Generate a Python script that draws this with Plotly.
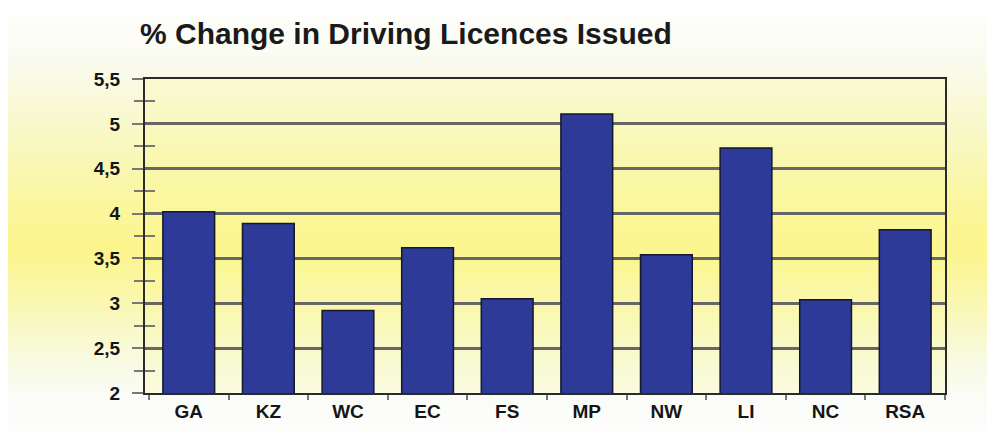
import plotly.graph_objects as go

categories = ["GA", "KZ", "WC", "EC", "FS", "MP", "NW", "LI", "NC", "RSA"]
values = [4.02, 3.89, 2.92, 3.62, 3.05, 5.11, 3.54, 4.73, 3.04, 3.82]
title_text = "% Change in Driving Licences Issued"

W, H = 995, 441
OFF = 8  # page body margin
ml, mt = 145 - OFF, 79 - OFF
plot_w, plot_h = 800, 314
mr = W - ml - plot_w
mb = H - mt - plot_h

fig = go.Figure()
fig.add_trace(go.Bar(
    x=categories, y=values, width=0.65,
    marker=dict(color="#2D3A98", line=dict(color="#15172a", width=1.5)),
    hoverinfo="x+y",
))
fig.add_trace(go.Scatter(x=[categories[0]], y=[2], yaxis="y2", mode="markers",
                         marker=dict(opacity=0), showlegend=False, hoverinfo="skip"))

# vertical background gradient in screen coordinates (white -> yellow -> white)
stops = [(0, (255, 255, 255)), (60, (250, 251, 240)), (130, (248, 248, 200)),
         (200, (250, 246, 160)), (250, (252, 245, 140)), (300, (250, 247, 175)),
         (360, (248, 250, 225)), (400, (250, 252, 248)), (450, (255, 255, 255))]

def col_at(py):
    for (p0, c0), (p1, c1) in zip(stops[:-1], stops[1:]):
        if p0 <= py <= p1:
            t = (py - p0) / (p1 - p0)
            return tuple(int(round(a + (b - a) * t)) for a, b in zip(c0, c1))
    return stops[-1][1]

shapes = []
step = 4
for fy in range(0, H, step):
    c = col_at(fy + OFF + step / 2)
    y_top = (H - mb - fy) / plot_h
    y_bot = (H - mb - fy - step - 0.5) / plot_h
    shapes.append(dict(type="rect", xref="paper", yref="paper",
                       x0=-ml / plot_w - 0.01, x1=1 + mr / plot_w + 0.01,
                       y0=y_bot, y1=y_top, layer="below", line=dict(width=0),
                       fillcolor="rgb(%d,%d,%d)" % c))
shapes.append(dict(type="rect", xref="paper", yref="paper", x0=0, x1=1, y0=0, y1=1,
                   layer="below", line=dict(width=0), fillcolor="rgba(250,250,150,0.22)"))

FONT = "Liberation Sans, Arial, sans-serif"

fig.update_layout(
    width=W, height=H,
    margin=dict(l=ml, r=mr, t=mt, b=mb),
    paper_bgcolor="white",
    plot_bgcolor="rgba(0,0,0,0)",
    separators=", ",
    showlegend=False,
    shapes=shapes,
    title=dict(text="<b>" + title_text + "</b>", x=(140 - OFF) / W, xanchor="left",
               y=1 - (33 - OFF) / H, yanchor="middle",
               font=dict(family=FONT, size=30, color="#1a1a1a")),
    font=dict(family=FONT),
    xaxis=dict(
        showgrid=False, showline=True, linecolor="#2a2a2a", linewidth=2, mirror=True,
        ticks="outside", tickson="boundaries", ticklen=5, tickcolor="#777", tickwidth=2,
        tickfont=dict(size=19, color="#151515", family=FONT),
        tickprefix="<b>", ticksuffix="</b>",
    ),
    yaxis=dict(
        range=[2, 5.5], dtick=0.5, tick0=2,
        showgrid=True, gridcolor="#666666", gridwidth=2.5,
        showline=True, linecolor="#2a2a2a", linewidth=2, mirror=True,
        ticks="outside", ticklen=11, tickcolor="#777", tickwidth=2,
        minor=dict(ticks="outside", dtick=0.25, ticklen=9, tickcolor="#777", tickwidth=2, showgrid=False),
        tickfont=dict(size=19, color="#151515", family=FONT),
        tickprefix="<b>", ticksuffix="</b>", ticklabelstandoff=8,
        zeroline=False, fixedrange=True,
    ),
    yaxis2=dict(
        overlaying="y", side="left", range=[2, 5.5], tickvals=[2.25, 2.75, 3.25, 3.75, 4.25, 4.75, 5.25],
        ticks="inside", ticklen=10, tickcolor="#777", tickwidth=2,
        showticklabels=False, showgrid=False, showline=False, zeroline=False, fixedrange=True,
    ),
)

fig.write_html("out.html")
